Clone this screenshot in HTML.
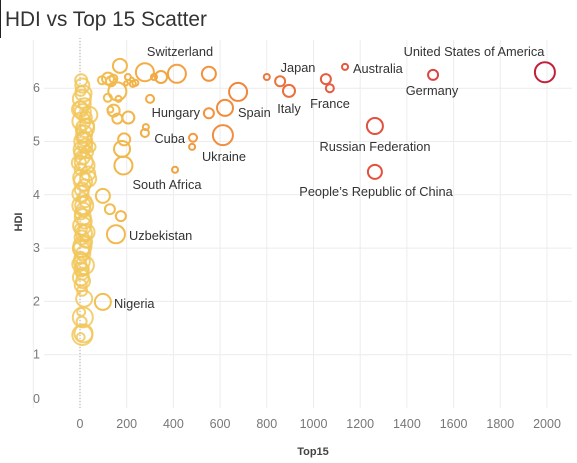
<!DOCTYPE html>
<html><head><meta charset="utf-8"><style>
html,body{margin:0;padding:0;background:#fff;width:577px;height:463px;overflow:hidden;font-family:"Liberation Sans","DejaVu Sans",sans-serif}
</style></head><body>
<div style="position:absolute;left:0;top:0;width:1px;height:38px;background:#222"></div>
<svg id="chart" width="577" height="463" xmlns="http://www.w3.org/2000/svg" style="position:absolute;left:0;top:0">
<text x="5" y="26" font-size="20.8" fill="#333" font-family="Liberation Sans, DejaVu Sans, sans-serif">HDI vs Top 15 Scatter</text>
<g id="grid"></g><g id="axes"></g><g id="marks"></g><g id="labels"></g>
<text transform="translate(22,222) rotate(-90)" text-anchor="middle" font-size="11" font-weight="bold" fill="#444">HDI</text>
<text x="313" y="455" text-anchor="middle" font-size="11" font-weight="bold" fill="#444">Top15</text>
</svg>
<script>
const xTicks=[0,200,400,600,800,1000,1200,1400,1600,1800,2000];
const yTicks=[0,1,2,3,4,5,6];
const xGrid=[-200,0,200,400,600,800,1000,1200,1400,1600,1800,2000];
const countries=["United States of America","Germany","Australia","France","France2","Japan","Japan2","Italy","Spain","Spain2","Hungary","Ukraine","Cuba","Cuba2","Russian Federation","People's Republic of China","Switzerland","Sw2","Sw3","Sw4","Sw5","Sw6","South Africa","a1","a2","a3","Uzbekistan","b1","b2","b3","Nigeria","c1","c2","c3","c4","c5","c6","c7","c8","c9","c10","c11","c12","c13","c14","c15","c16","c17","c18","c19"];
const top15=[1991,1512,1135,1053,1070,800,857,895,677,621,552,612,484,480,1263,1263,171,278,415,552,347,317,407,300,278,282,154,175,128,98,98,94,120,133,143,205,197,222,226,237,160,207,130,119,144,160,165,189,180,186];
const hdi=[6.30,6.25,6.40,6.17,6.00,6.21,6.13,5.95,5.93,5.63,5.53,5.12,5.07,4.90,5.29,4.43,6.42,6.30,6.27,6.27,6.21,6.21,4.47,5.80,5.16,5.27,3.26,3.60,3.73,3.98,1.99,6.15,6.18,6.13,6.18,6.21,6.09,6.16,6.08,6.10,5.94,5.45,5.60,5.82,5.58,5.43,5.80,5.04,4.86,4.55];
const sizes=[10,5,3,5,4,3,5,6,9,8,5,10,4,3,8,7,7,9,9,7,6,3,3,4,4,3,9,5,5,7,8,4,6,5,4,3,2,2,3,3,9,6,3,4,6,5,3,6,8,9];
const clX=[5,10,3,15,8,20,2,12,25,6,30,4,18,9,14,22,7,1,11,16,28,3,35,5,13,19,8,2,10,24,6,15,4,12,20,9,3,17,7,26,11,5,14,2,8,21,6,10,4,13,3,9,18,5,12,7,15,3,10,20,30,40,45,8,12,0,22,-5,35,18,28,-3];
const clY=[6.15,6.05,5.95,5.90,5.80,5.70,5.62,5.55,5.45,5.38,5.30,5.22,5.15,5.08,5.00,4.92,4.85,4.78,4.70,4.62,4.55,4.48,4.40,4.32,4.25,4.18,4.10,4.02,3.95,3.88,3.80,3.72,3.65,3.58,3.50,3.42,3.35,3.28,3.20,3.12,3.05,2.98,2.90,2.82,2.75,2.68,2.60,2.52,2.45,2.38,2.30,2.20,2.05,1.80,1.70,1.62,1.40,1.33,1.37,5.05,4.80,5.50,4.90,3.00,2.60,5.60,5.25,4.60,4.30,3.80,3.30,2.70];
const clS=[6,7,5,8,9,6,7,8,6,9,7,5,8,6,9,7,8,6,7,9,8,6,7,8,9,6,7,8,5,6,9,7,6,8,7,9,6,8,7,6,9,8,7,6,8,9,7,6,8,7,6,5,8,4,10,5,9,4,10,7,6,8,5,9,6,8,9,7,8,9,8,7];
const labels=[["United States of America",474,56,"middle"],["Germany",432,95,"middle"],["Australia",353,73,"start"],["France",330,108,"middle"],["Japan",298,72,"middle"],["Italy",289,113,"middle"],["Spain",238,117,"start"],["Hungary",200,117,"end"],["Ukraine",224,161,"middle"],["Cuba",185,143,"end"],["Russian Federation",375,151,"middle"],["People\u2019s Republic of China",376,196,"middle"],["Switzerland",180,56,"middle"],["South Africa",167,189,"middle"],["Uzbekistan",129,240,"start"],["Nigeria",114,308,"start"]];
const X=v=>80+v*0.2335, Y=v=>408-v*53.3;
const NS="http://www.w3.org/2000/svg";
function mk(t,a,p){const e=document.createElementNS(NS,t);for(const k in a)e.setAttribute(k,a[k]);p.appendChild(e);return e;}
const grid=document.getElementById('grid'),axes=document.getElementById('axes'),marks=document.getElementById('marks'),lab=document.getElementById('labels');
xGrid.forEach(v=>{const l=mk('line',{x1:X(v),x2:X(v),y1:40,y2:408,stroke:'#ececec','stroke-width':1},grid);

});
yTicks.slice(1).forEach(v=>{const l=mk('line',{x1:44,x2:572,y1:Y(v),y2:Y(v),stroke:'#ececec','stroke-width':1},grid);

});
const zl=mk('line',{x1:X(0),x2:X(0),y1:38,y2:408,stroke:'#aaa','stroke-width':1,'stroke-dasharray':'1,2'},grid);


xTicks.forEach(v=>{const t=mk('text',{x:X(v),y:428,'text-anchor':'middle','font-size':12.5,fill:'#777'},axes);t.textContent=v;

});
yTicks.forEach(v=>{const t=mk('text',{x:40,y:(v===0?399:Y(v))+4,'text-anchor':'end','font-size':12.5,fill:'#777'},axes);t.textContent=v;

});
function col(x){const stops=[[0,[242,200,92]],[250,[242,176,70]],[600,[243,142,59]],[1100,[230,88,62]],[1500,[220,70,65]],[2000,[194,30,58]]];
for(let i=1;i<stops.length;i++){if(x<=stops[i][0]){const a=stops[i-1],b=stops[i],t=Math.max(0,(x-a[0])/(b[0]-a[0]));return 'rgb('+a[1].map((c,j)=>Math.round(c+(b[1][j]-c)*t)).join(',')+')';}}return 'rgb(194,30,58)';}
clX.forEach((v,i)=>{const c=mk('circle',{cx:X(v),cy:Y(clY[i]),r:clS[i],fill:'none',stroke:col(Math.max(0,v)),'stroke-width':2,'stroke-opacity':0.85},marks);

});
top15.forEach((v,i)=>{const c=mk('circle',{cx:X(v),cy:Y(hdi[i]),r:sizes[i],fill:'none',stroke:col(v),'stroke-width':2},marks);

});
labels.forEach(l=>{const t=mk('text',{x:l[1],y:l[2],'text-anchor':l[3],'font-size':12.8,fill:'#333'},lab);t.textContent=l[0];

});
</script>
</body></html>
